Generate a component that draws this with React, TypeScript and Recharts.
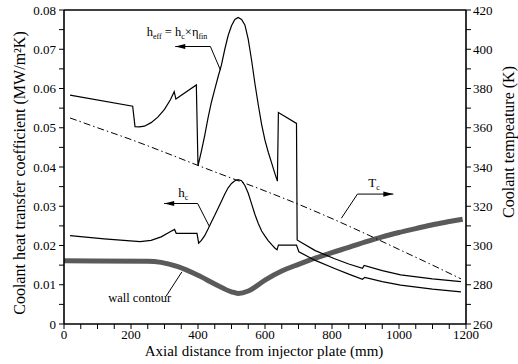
import React from 'react';
import {
  ComposedChart, Line, XAxis, YAxis, ReferenceLine, ReferenceDot, Customized,
} from 'recharts';

const FONT = "'Liberation Serif', 'Times New Roman', serif";

// axial distance (mm), effective coolant HTC (MW/m2K)
const hEffPoints: [number, number][] = [
  [18, 0.0583], [205, 0.0555], [212, 0.0503], [225, 0.0502], [240, 0.0504], [260, 0.0513],
  [280, 0.0527], [300, 0.0547], [318, 0.0572], [329, 0.0592], [334, 0.0573], [395, 0.0609],
  [400, 0.0403], [410, 0.0440], [420, 0.0480], [430, 0.0525], [440, 0.0565], [450, 0.0598],
  [460, 0.0630], [470, 0.0660], [480, 0.0700], [490, 0.0735], [500, 0.0760], [510, 0.0776],
  [520, 0.0781], [530, 0.0776], [540, 0.0762], [550, 0.0725], [560, 0.0672], [570, 0.0612],
  [580, 0.0558], [590, 0.0508], [600, 0.0468], [610, 0.0437], [620, 0.0410], [630, 0.0382],
  [637, 0.0364], [640, 0.0539], [694, 0.0511], [696, 0.0214], [706, 0.0209], [750, 0.0187],
  [806, 0.0167], [850, 0.0153], [891, 0.0142], [896, 0.0149], [950, 0.0136], [1005, 0.0125],
  [1100, 0.0115], [1185, 0.0108],
];

// coolant HTC h_c (MW/m2K)
const hCPoints: [number, number][] = [
  [18, 0.0225], [120, 0.0217], [227, 0.0210], [260, 0.0213], [290, 0.0222], [317, 0.0235],
  [330, 0.0241], [335, 0.0231], [397, 0.0231], [402, 0.0206], [410, 0.0213], [420, 0.0225],
  [430, 0.0242], [440, 0.0260], [450, 0.0277], [460, 0.0295], [470, 0.0313], [480, 0.0331],
  [490, 0.0347], [500, 0.0358], [510, 0.0365], [520, 0.0368], [530, 0.0365], [540, 0.0353],
  [550, 0.0333], [560, 0.0306], [570, 0.0279], [580, 0.0256], [590, 0.0237], [600, 0.0224],
  [610, 0.0212], [620, 0.0202], [630, 0.0193], [636, 0.0189], [640, 0.0201], [694, 0.0201],
  [701, 0.0184], [750, 0.0162], [806, 0.0142], [850, 0.0127], [891, 0.0114], [898, 0.0119],
  [950, 0.0108], [1005, 0.0099], [1100, 0.0089], [1185, 0.0082],
];

// coolant temperature T_c (K), right axis
const tCPoints: [number, number][] = [
  [18, 365], [100, 360], [200, 354], [300, 347.5], [400, 340.8], [500, 334.3], [600, 327.8],
  [700, 321], [800, 313.7], [900, 306], [1000, 298], [1100, 290], [1185, 283],
];

// wall contour (plotted on left axis scale)
const wallPoints: [number, number][] = [
  [0, 0.0161], [250, 0.0160], [290, 0.0157], [340, 0.0146], [400, 0.0124], [450, 0.0102],
  [500, 0.0082], [520, 0.0078], [550, 0.0084], [600, 0.0112], [650, 0.0135], [700, 0.0152],
  [750, 0.0168], [800, 0.0182], [850, 0.0195], [900, 0.0209], [950, 0.0222], [1000, 0.0233],
  [1050, 0.0243], [1100, 0.0253], [1150, 0.0261], [1190, 0.0267],
];

const xTicks = [0, 50, 100, 150, 200, 250, 300, 350, 400, 450, 500, 550, 600, 650, 700, 750,
  800, 850, 900, 950, 1000, 1050, 1100, 1150, 1200];
const leftTicks = [0, 0.005, 0.01, 0.015, 0.02, 0.025, 0.03, 0.035, 0.04, 0.045, 0.05, 0.055,
  0.06, 0.065, 0.07, 0.075, 0.08];
const rightTicks = [260, 270, 280, 290, 300, 310, 320, 330, 340, 350, 360, 370, 380, 390, 400,
  410, 420];

const toXY = (pts: [number, number][]) => pts.map(([x, y]) => ({ x, y }));
const hEff = toXY(hEffPoints);
const hC = toXY(hCPoints);
const tC = toXY(tCPoints);
const wall = toXY(wallPoints);

const Leader = (p: any) => {
  const { x1, y1, x2, y2, arrow } = p;
  const els: any[] = [<line key="l" x1={x1} y1={y1} x2={x2} y2={y2} stroke="#000" strokeWidth={1} />];
  if (arrow) {
    const dx = x2 - x1, dy = y2 - y1;
    const len = Math.sqrt(dx * dx + dy * dy) || 1;
    const ux = dx / len, uy = dy / len;
    const L = 10, W = 2.6;
    const bx = x2 - ux * L, by = y2 - uy * L;
    els.push(
      <polygon key="a" fill="#000"
        points={`${x2},${y2} ${bx - uy * W},${by + ux * W} ${bx + uy * W},${by - ux * W}`} />,
    );
  }
  return <g>{els}</g>;
};

const txt = { fontFamily: FONT };

const HeffText = (p: any) => (
  <text x={p.cx} y={p.cy} style={{ ...txt, fontSize: 12.5 }} fill="#000">
    <tspan>h</tspan><tspan style={{ fontSize: 8 }} dy={3}>eff</tspan>
    <tspan dy={-3}> = h</tspan><tspan style={{ fontSize: 8 }} dy={3}>c</tspan>
    <tspan dy={-3}>×η</tspan><tspan style={{ fontSize: 8 }} dy={3}>fin</tspan>
  </text>
);
const SubText = ({ cx, cy, main, s }: any) => (
  <text x={cx} y={cy} style={{ ...txt, fontSize: 13 }} fill="#000">
    <tspan>{main}</tspan><tspan style={{ fontSize: 8 }} dy={3}>{s}</tspan>
  </text>
);
const WallText = (p: any) => (
  <text x={p.cx} y={p.cy} style={{ ...txt, fontSize: 12.5 }} fill="#000">wall contour</text>
);

const Titles = () => (
  <g fill="#000">
    <text x={0} y={0} style={{ ...txt, fontSize: 16 }} textAnchor="middle"
      transform="translate(25 173) rotate(-90)">Coolant heat transfer coefficient (MW/m²K)</text>
    <text x={0} y={0} style={{ ...txt, fontSize: 16 }} textAnchor="middle"
      transform="translate(514 142) rotate(-90)">Coolant tempeature (K)</text>
    <text x={264} y={356} style={{ ...txt, fontSize: 15 }} textAnchor="middle">
      Axial distance from injector plate (mm)</text>
  </g>
);

const tickStyle = { fill: '#000', fontSize: 13, fontFamily: FONT };
const axisLine = { stroke: '#000', strokeWidth: 1.6 };

export default function App() {
  return (
    <div style={{ position: 'fixed', left: 0, top: 0, width: 518, height: 364, background: '#fff', fontFamily: FONT }}>
      <ComposedChart width={518} height={364} margin={{ top: 10, right: 0, bottom: 0, left: 0 }}
        style={{ fontFamily: FONT }}>
        <XAxis xAxisId="x" dataKey="x" type="number" domain={[0, 1200]} ticks={xTicks} interval={0}
          height={40} tick={tickStyle} tickSize={5} tickMargin={1} axisLine={axisLine}
          tickLine={{ stroke: '#000' }}
          tickFormatter={(v: number) => (v % 200 === 0 ? String(v) : '')} allowDuplicatedCategory />
        <YAxis yAxisId="left" type="number" domain={[0, 0.08]} ticks={leftTicks} interval={0}
          width={64} tick={tickStyle} tickSize={5} tickMargin={3} axisLine={axisLine}
          tickLine={{ stroke: '#000' }}
          tickFormatter={(v: number) => (Math.round(v * 1000) % 10 === 0 ? (v === 0 ? '0' : v.toFixed(2)) : '')} />
        <YAxis yAxisId="right" orientation="right" type="number" domain={[260, 420]} ticks={rightTicks}
          interval={0} width={52} tick={tickStyle} tickSize={5} tickMargin={2} axisLine={axisLine}
          tickLine={{ stroke: '#000' }}
          tickFormatter={(v: number) => (v % 20 === 0 ? String(v) : '')} />
        <ReferenceLine xAxisId="x" yAxisId="left" y={0.08} stroke="#000" strokeWidth={1.6} />

        <Line xAxisId="x" yAxisId="left" data={wall} dataKey="y" type="monotone" dot={false}
          stroke="#5a5a5a" strokeWidth={5} isAnimationActive={false} />
        <Line xAxisId="x" yAxisId="left" data={hEff} dataKey="y" type="linear" dot={false}
          stroke="#000" strokeWidth={1.2} isAnimationActive={false} />
        <Line xAxisId="x" yAxisId="left" data={hC} dataKey="y" type="linear" dot={false}
          stroke="#000" strokeWidth={1.2} isAnimationActive={false} />
        <Line xAxisId="x" yAxisId="right" data={tC} dataKey="y" type="monotone" dot={false}
          stroke="#000" strokeWidth={1} strokeDasharray="7 3 1.5 3" isAnimationActive={false} />

        <ReferenceLine xAxisId="x" yAxisId="left" segment={[{ x: 467, y: 0.0647 }, { x: 437, y: 0.0707 }]}
          shape={(p: any) => <Leader {...p} />} />
        <ReferenceLine xAxisId="x" yAxisId="left" segment={[{ x: 437, y: 0.0707 }, { x: 332, y: 0.0707 }]}
          shape={(p: any) => <Leader {...p} arrow />} />
        <ReferenceDot xAxisId="x" yAxisId="left" x={247} y={0.0735} r={0} shape={(p: any) => <HeffText {...p} />} />

        <ReferenceLine xAxisId="x" yAxisId="left" segment={[{ x: 433, y: 0.0250 }, { x: 399, y: 0.0307 }]}
          shape={(p: any) => <Leader {...p} />} />
        <ReferenceLine xAxisId="x" yAxisId="left" segment={[{ x: 399, y: 0.0307 }, { x: 299, y: 0.0307 }]}
          shape={(p: any) => <Leader {...p} arrow />} />
        <ReferenceDot xAxisId="x" yAxisId="left" x={341} y={0.0323} r={0}
          shape={(p: any) => <SubText cx={p.cx} cy={p.cy} main="h" s="c" />} />

        <ReferenceLine xAxisId="x" yAxisId="right" segment={[{ x: 828, y: 313.9 }, { x: 876, y: 326.2 }]}
          shape={(p: any) => <Leader {...p} />} />
        <ReferenceLine xAxisId="x" yAxisId="right" segment={[{ x: 876, y: 326.2 }, { x: 983, y: 326.2 }]}
          shape={(p: any) => <Leader {...p} arrow />} />
        <ReferenceDot xAxisId="x" yAxisId="right" x={908} y={329.7} r={0}
          shape={(p: any) => <SubText cx={p.cx} cy={p.cy} main="T" s="c" />} />

        <ReferenceLine xAxisId="x" yAxisId="left" segment={[{ x: 305, y: 0.0071 }, { x: 352, y: 0.0133 }]}
          shape={(p: any) => <Leader {...p} />} />
        <ReferenceDot xAxisId="x" yAxisId="left" x={132} y={0.0057} r={0} shape={(p: any) => <WallText {...p} />} />

        <Customized component={<Titles />} />
      </ComposedChart>
    </div>
  );
}
